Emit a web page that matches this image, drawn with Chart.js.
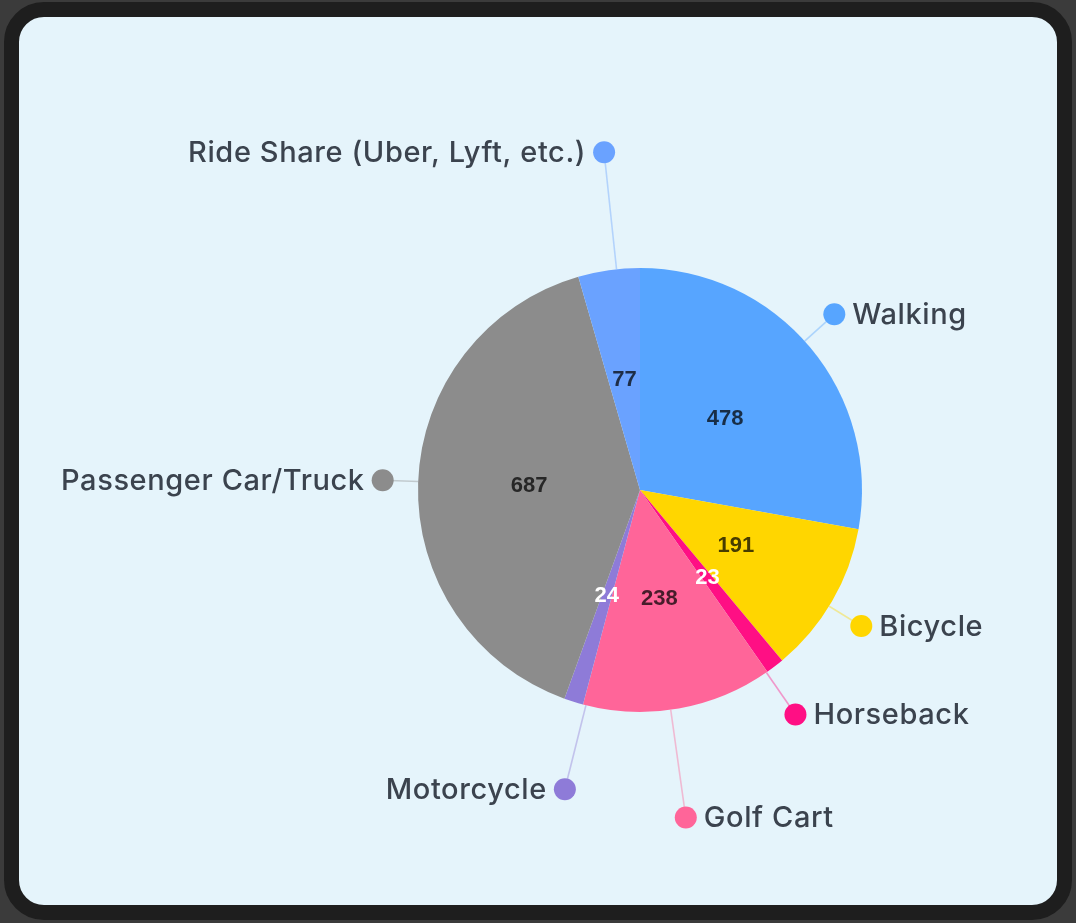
<!DOCTYPE html>
<html>
<head>
<meta charset="utf-8">
<script src="https://cdn.jsdelivr.net/npm/chart.js@4.4.1/dist/chart.umd.min.js"></script>
<style>
  html, body { margin: 0; padding: 0; }
  body { width: 1076px; height: 923px; background: #3b3b3b; position: relative; overflow: hidden; }
  .frame {
    position: absolute; left: 4px; top: 2px; width: 1038px; height: 888px;
    border: 15px solid #1e1e1e; border-radius: 40px; background: #e5f4fb;
  }
  #chart { position: absolute; left: 0; top: 0; }
</style>
</head>
<body>
<div class="frame"></div>
<canvas id="chart" width="1076" height="923"></canvas>
<script>
// slices in drawing order, clockwise from 12 o'clock
const categories = ['Walking', 'Bicycle', 'Horseback', 'Golf Cart', 'Motorcycle', 'Passenger Car/Truck', 'Ride Share (Uber, Lyft, etc.)'];
const counts     = [478, 191, 23, 238, 24, 687, 77];
const sliceColors = ['#57a5ff', '#ffd600', '#ff0f84', '#ff6599', '#8e7bd8', '#8c8c8c', '#6aa2ff'];

// callout placement: distance (x radius) and angle nudge (deg) of each label dot
const calloutDist  = [1.18, 1.17, 1.23, 1.49, 1.39, 1.16, 1.53];
const calloutNudge = [-2.2, 1.4, 2.7, 2.1, -3.3, 0.3, 2.0];

function hexRgb(h){
  const n = parseInt(h.slice(1), 16);
  return [(n >> 16) & 255, (n >> 8) & 255, n & 255];
}

const calloutPlugin = {
  id: 'callouts',
  afterDatasetsDraw(chart){
    const ctx = chart.ctx;
    const meta = chart.getDatasetMeta(0);
    const total = counts.reduce((a, b) => a + b, 0);
    ctx.save();
    meta.data.forEach((arc, i) => {
      const p = arc.getProps(['x', 'y', 'startAngle', 'endAngle', 'outerRadius'], true);
      const mid = (p.startAngle + p.endAngle) / 2;
      const rgb = hexRgb(sliceColors[i]);

      // value inside the slice
      const vr = p.outerRadius * 0.5;
      const vx = p.x + Math.cos(mid) * vr, vy = p.y + Math.sin(mid) * vr;
      const small = counts[i] / total < 0.03;
      ctx.letterSpacing = '0px';
      ctx.font = "bold 22px 'Liberation Sans', Arial, sans-serif";
      ctx.textAlign = 'center';
      ctx.textBaseline = 'middle';
      ctx.fillStyle = small ? '#ffffff' : `rgb(${rgb.map(c => Math.round(c * 0.28)).join(',')})`;
      ctx.fillText(String(counts[i]), vx, vy);

      // leader line + dot + label
      const a = mid + calloutNudge[i] * Math.PI / 180;
      const r0 = p.outerRadius;
      const r1 = p.outerRadius * calloutDist[i];
      const x0 = p.x + Math.cos(a) * r0, y0 = p.y + Math.sin(a) * r0;
      const x1 = p.x + Math.cos(a) * r1, y1 = p.y + Math.sin(a) * r1;
      ctx.strokeStyle = `rgba(${rgb.join(',')},0.4)`;
      ctx.lineWidth = 1.6;
      ctx.beginPath(); ctx.moveTo(x0, y0); ctx.lineTo(x1, y1); ctx.stroke();

      ctx.fillStyle = sliceColors[i];
      ctx.beginPath(); ctx.arc(x1, y1, 11, 0, Math.PI * 2); ctx.fill();

      const left = x1 < p.x;
      ctx.font = "500 29px Inter, 'Open Sans', sans-serif";
      ctx.letterSpacing = '0.6px';
      ctx.fillStyle = '#3b434e';
      ctx.textAlign = left ? 'right' : 'left';
      ctx.fillText(categories[i], x1 + (left ? -18 : 18), y1 + 1);
    });
    ctx.restore();
  }
};

new Chart(document.getElementById('chart'), {
  type: 'pie',
  data: {
    labels: categories,
    datasets: [{ data: counts, backgroundColor: sliceColors, borderWidth: 0 }]
  },
  options: {
    responsive: false,
    animation: false,
    layout: { padding: { left: 418, right: 214, top: 268, bottom: 211 } },
    plugins: { legend: { display: false }, tooltip: { enabled: false } }
  },
  plugins: [calloutPlugin]
});
</script>
</body>
</html>
